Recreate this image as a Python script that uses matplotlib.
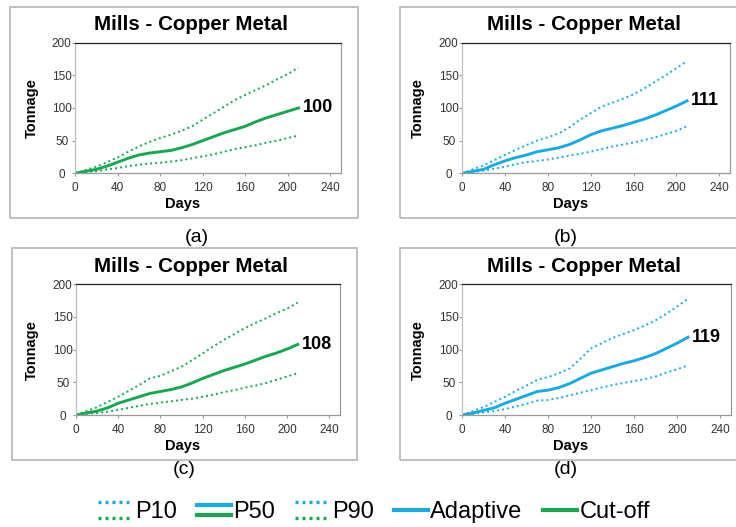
import matplotlib.pyplot as plt
from matplotlib.lines import Line2D
from matplotlib.patches import Rectangle
from matplotlib.legend_handler import HandlerBase

plt.rcParams['font.family'] = ['Liberation Sans', 'DejaVu Sans']

# dados (dias de 10 em 10)
days = [0, 10, 20, 30, 40, 50, 60, 70, 80, 90, 100, 110, 120, 130, 140, 150,
        160, 170, 180, 190, 200, 210]

a_p10 = [0, 2, 3, 6, 8, 11, 13, 15, 16, 18, 20, 23, 26, 29, 33, 37, 40, 43, 47, 50, 54, 58]
a_p50 = [0, 3, 6, 11, 17, 23, 28, 31, 33, 35, 39, 44, 50, 56, 62, 67, 72, 79, 85, 90, 95, 100]
a_p90 = [0, 5, 10, 17, 24, 33, 41, 48, 54, 59, 65, 72, 82, 92, 102, 112, 120, 128, 135, 144, 152, 162]

b_p10 = [0, 2, 4, 7, 10, 14, 17, 19, 21, 24, 27, 30, 33, 37, 41, 44, 47, 51, 55, 60, 65, 72]
b_p50 = [0, 3, 6, 13, 19, 24, 28, 33, 36, 39, 44, 51, 59, 65, 69, 73, 78, 83, 89, 96, 103, 111]
b_p90 = [0, 6, 12, 20, 28, 36, 43, 50, 55, 61, 70, 82, 92, 102, 108, 114, 121, 130, 140, 150, 161, 172]

c_p10 = [0, 2, 3, 5, 8, 11, 14, 17, 19, 21, 23, 25, 28, 31, 35, 38, 42, 45, 49, 54, 59, 64]
c_p50 = [0, 3, 6, 11, 18, 23, 28, 33, 36, 39, 43, 49, 56, 62, 68, 73, 78, 84, 90, 95, 101, 108]
c_p90 = [0, 6, 12, 20, 28, 37, 46, 56, 60, 67, 74, 84, 94, 105, 115, 124, 133, 141, 148, 156, 163, 172]

d_p10 = [0, 2, 4, 6, 9, 13, 17, 22, 23, 26, 30, 34, 38, 42, 46, 49, 52, 55, 59, 65, 70, 76]
d_p50 = [0, 3, 7, 11, 18, 24, 30, 36, 38, 42, 48, 56, 64, 69, 74, 79, 83, 88, 94, 102, 110, 119]
d_p90 = [0, 6, 12, 20, 28, 37, 45, 54, 58, 64, 71, 86, 102, 110, 118, 124, 130, 137, 145, 155, 166, 178]

panels = ['(a)', '(b)', '(c)', '(d)']
final_labels = ['100', '111', '108', '119']
xticks = [0, 40, 80, 120, 160, 200, 240]
yticks = [0, 50, 100, 150, 200]

blue = '#17abe5'
green = '#14a94f'
W, H = 736, 527

fig = plt.figure(figsize=(7.36, 5.27), dpi=100)


def px(x, y, w, h):
    # caixa em pixels (topo-esquerda) -> fração da figura
    return [x / W, 1 - (y + h) / H, w / W, h / H]


# molduras cinzas de cada painel
for (x0, y0, x1, y1) in [(10, 7, 358, 218), (400, 7, 780, 218),
                         (12, 248, 357, 460), (400, 248, 780, 460)]:
    fig.add_artist(Rectangle((x0 / W, 1 - y1 / H), (x1 - x0) / W, (y1 - y0) / H,
                             transform=fig.transFigure, fill=False,
                             edgecolor='#b5b5b5', linewidth=1.2))

series = [(a_p10, a_p50, a_p90, green), (b_p10, b_p50, b_p90, blue),
          (c_p10, c_p50, c_p90, green), (d_p10, d_p50, d_p90, blue)]
ax_boxes = [(75, 42.7, 266, 130.6), (462, 42.7, 268, 130.6),
            (76, 284.3, 264, 130.7), (462, 284.3, 269, 130.7)]
title_pos = [(191, 25), (584, 25), (191, 267), (584, 267)]
ylab_pos = [(32, 108), (418, 108), (32, 350), (418, 350)]
days_pos = [(183, 204), (571, 204), (183, 446), (571, 446)]
cap_pos = [(197, 237), (566, 237), (184, 469), (566, 469)]

for i, (p10, p50, p90, cor) in enumerate(series):
    ax = fig.add_axes(px(*ax_boxes[i]))
    ax.plot(days, p90, color=cor, linewidth=1.4, linestyle=(0, (1, 1.6)))
    ax.plot(days, p10, color=cor, linewidth=1.4, linestyle=(0, (1, 1.6)))
    ax.plot(days, p50, color=cor, linewidth=2.1)
    ax.annotate(final_labels[i], (days[-1], p50[-1]), xytext=(3, 0),
                textcoords='offset points', va='center', ha='left',
                fontsize=13, fontweight='bold')
    ax.set_xlim(0, 250)
    ax.set_ylim(0, 200)
    ax.set_xticks(xticks)
    ax.set_yticks(yticks)
    ax.tick_params(labelsize=8.5, colors='#9a9a9a', labelcolor='#333333',
                   length=2.5, width=0.8)
    ax.tick_params(axis='x', pad=4)
    ax.tick_params(axis='y', pad=7)
    for t in ax.get_yticklabels():
        t.set_horizontalalignment('center')
    ax.spines['top'].set_color('#222222')
    ax.spines['right'].set_color('#9a9a9a')
    ax.spines['left'].set_color('#c0c0c0')
    ax.spines['bottom'].set_color('#9a9a9a')
    for s in ax.spines.values():
        s.set_linewidth(0.9)

    tx, ty = title_pos[i]
    fig.text(tx / W, 1 - ty / H, 'Mills - Copper Metal', ha='center', va='center',
             fontsize=14.8, fontweight='bold')
    lx, ly = ylab_pos[i]
    fig.text(lx / W, 1 - ly / H, 'Tonnage', rotation=90, ha='center', va='center',
             fontsize=10.5, fontweight='bold')
    dx, dy = days_pos[i]
    fig.text(dx / W, 1 - dy / H, 'Days', ha='center', va='center',
             fontsize=10.5, fontweight='bold')
    cx, cy = cap_pos[i]
    fig.text(cx / W, 1 - cy / H, panels[i], ha='center', va='center', fontsize=14)


class Empilhado(HandlerBase):
    # desenha as linhas do tuplo uma sobre a outra
    def create_artists(self, legend, orig_handle, xdescent, ydescent,
                       width, height, fontsize, trans):
        arts = []
        n = len(orig_handle)
        for k, h in enumerate(orig_handle):
            if n == 1:
                y = height / 2
            elif h.get_linestyle() == '-':
                y = height * (0.8 - 0.6 * k)
            else:
                y = height * (0.95 - 0.9 * k)
            ln = Line2D([-xdescent, width - xdescent], [y - ydescent] * 2)
            ln.update_from(h)
            ln.set_transform(trans)
            arts.append(ln)
        return arts


dot_b = Line2D([], [], color=blue, linewidth=2.4, linestyle=(0, (0.9, 1.2)))
dot_g = Line2D([], [], color=green, linewidth=2.4, linestyle=(0, (0.9, 1.2)))
sol_b = Line2D([], [], color=blue, linewidth=3.0)
sol_g = Line2D([], [], color=green, linewidth=3.0)

handles = [(dot_b, dot_g), (sol_b, sol_g), (dot_b, dot_g), (sol_b,), (sol_g,)]
labels = ['P10', 'P50', 'P90', 'Adaptive', 'Cut-off']
fig.legend(handles, labels, handler_map={tuple: Empilhado()},
           loc='center', bbox_to_anchor=(374 / W, 1 - 512 / H), ncol=5,
           frameon=False, fontsize=17, handlelength=1.45, handletextpad=0.1,
           columnspacing=0.85, handleheight=0.75, borderpad=0)

fig.savefig('out.png', dpi=100)
